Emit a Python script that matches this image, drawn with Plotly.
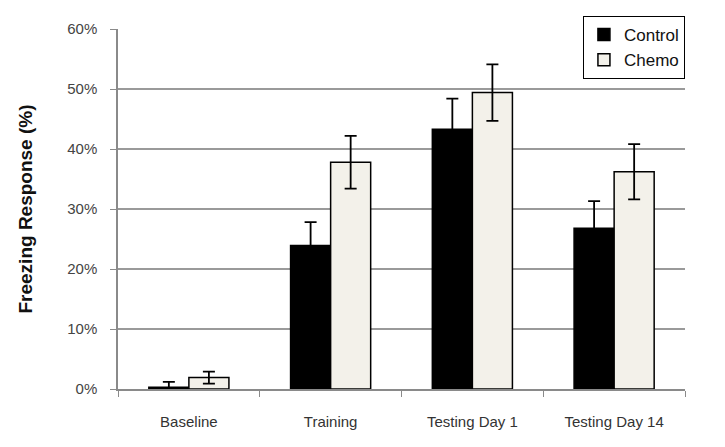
import plotly.graph_objects as go

categories = ["Baseline", "Training", "Testing Day 1", "Testing Day 14"]
control = [0.003, 0.239, 0.433, 0.268]
control_err = [0.009, 0.039, 0.051, 0.045]
chemo = [0.019, 0.378, 0.494, 0.362]
chemo_err = [0.010, 0.044, 0.047, 0.046]

fig = go.Figure()
fig.add_trace(go.Bar(
    name="Control", x=categories, y=control,
    marker=dict(color="black", line=dict(color="black", width=1.5)),
    error_y=dict(type="data", array=control_err, color="black", thickness=1.8, width=6),
))
fig.add_trace(go.Bar(
    name="Chemo", x=categories, y=chemo,
    marker=dict(color="#f3f1ea", line=dict(color="black", width=1.5)),
    error_y=dict(type="data", array=chemo_err, color="black", thickness=1.8, width=6),
))

fig.update_layout(
    width=717, height=439,
    margin=dict(l=110, r=40, t=21, b=58, autoexpand=False),
    paper_bgcolor="white", plot_bgcolor="white",
    barmode="group", bargap=0.435, bargroupgap=0,
    font=dict(family="Arial, Liberation Sans, sans-serif", size=15, color="#333"),
    showlegend=True,
    legend=dict(
        x=0.82, y=1.036, xanchor="left", yanchor="top",
        bgcolor="white", bordercolor="black", borderwidth=1,
        font=dict(size=17, color="#111"),
        tracegroupgap=0, itemwidth=30,
    ),
)
fig.update_yaxes(
    range=[0, 0.6], dtick=0.1, tickformat=".0%",
    showgrid=True, gridcolor="#9a9a9a", gridwidth=1.5,
    showline=True, linecolor="#8a8a8a", linewidth=1.5,
    ticks="outside", ticklen=6, tickcolor="#8a8a8a",
    ticklabelstandoff=10,
    tickfont=dict(size=15, color="#444"),
    zeroline=False, automargin=False,
    title=dict(text="<b>Freezing Response (%)</b>",
               font=dict(family="Liberation Sans Narrow, Arial Narrow, Arial", size=19, color="#111"),
               standoff=30),
)
fig.update_xaxes(
    showline=True, linecolor="#8a8a8a", linewidth=1.5,
    ticks="outside", ticklen=6, tickcolor="#8a8a8a", tickson="boundaries",
    ticklabelstandoff=18, automargin=False,
    tickfont=dict(size=15, color="#333"),
)

fig.write_html("out.html")
